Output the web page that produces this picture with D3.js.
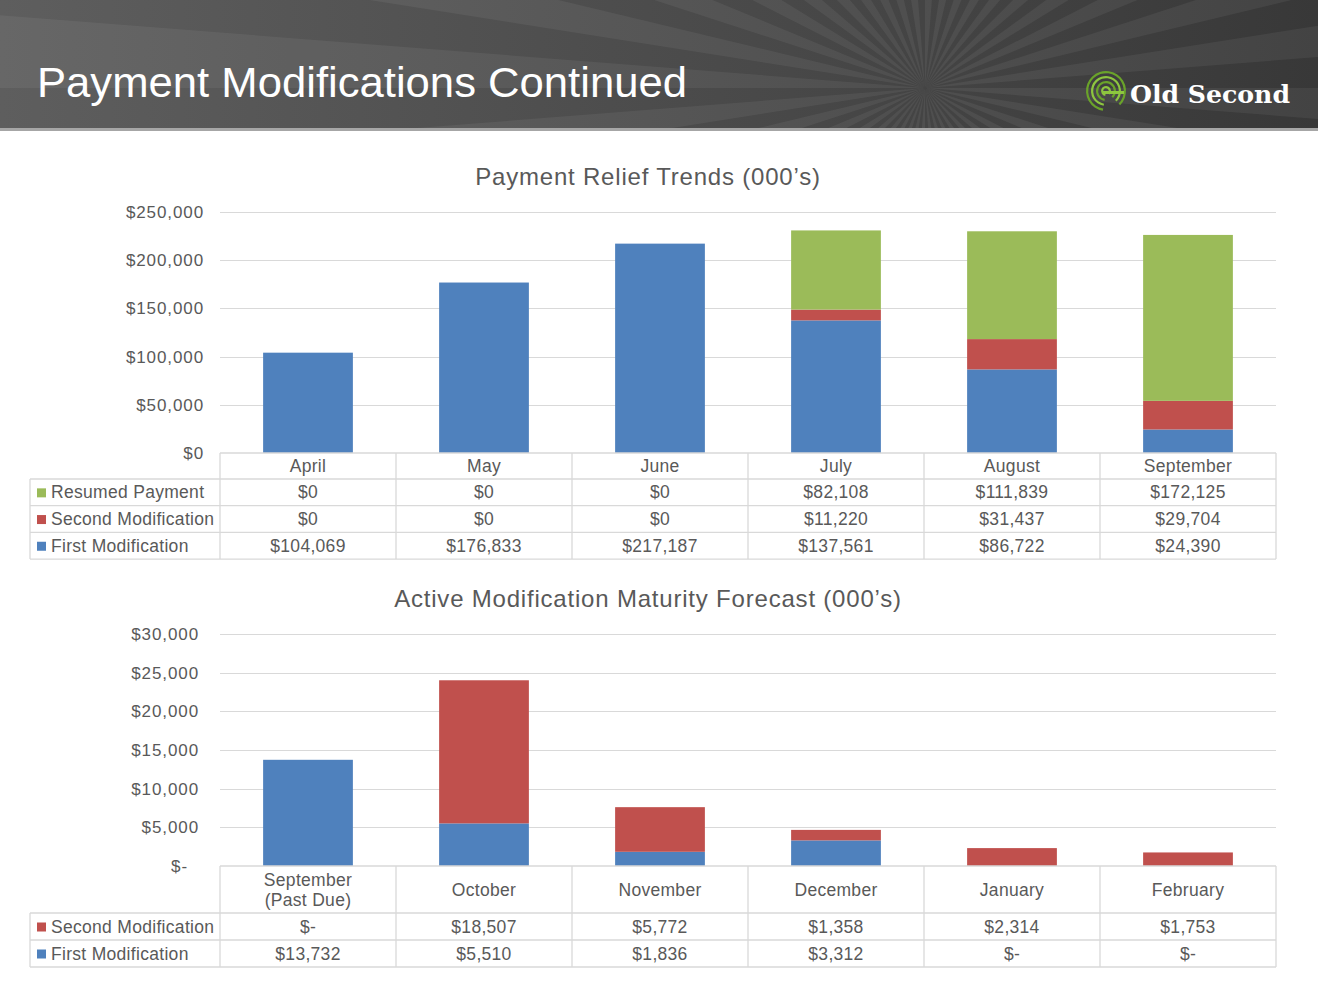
<!DOCTYPE html>
<html><head><meta charset="utf-8">
<script src="https://cdn.jsdelivr.net/npm/d3@7"></script>
<style>
html,body{margin:0;padding:0;background:#fff;}
svg{display:block;font-family:"Liberation Sans",Arial,sans-serif;}
</style></head>
<body>
<svg id="c" width="1318" height="989"></svg>
<script>
// ---- data ----
const pageTitle = "Payment Modifications Continued";
const chart1Title = "Payment Relief Trends (000\u2019s)";
const chart2Title = "Active Modification Maturity Forecast (000\u2019s)";

const months = ["April","May","June","July","August","September"];
const resumedPayment = [0,0,0,82108,111839,172125];
const secondMod = [0,0,0,11220,31437,29704];
const firstMod = [104069,176833,217187,137561,86722,24390];
const ticks1 = [0,50000,100000,150000,200000,250000];

const forecastCats = [["September","(Past Due)"],["October"],["November"],["December"],["January"],["February"]];
const fSecondMod = [0,18507,5772,1358,2314,1753];
const fFirstMod = [13732,5510,1836,3312,0,0];
const ticks2 = [0,5000,10000,15000,20000,25000,30000];

const colors = {first:"#4F81BD", second:"#C0504D", resumed:"#9BBB59"};
const textCol = "#595959", gridCol = "#D9D9D9";

const svg = d3.select("#c");

// ---- header ----
const defs = svg.append("defs");
const g1 = defs.append("linearGradient").attr("id","hg").attr("x1","0").attr("y1","0").attr("x2","1").attr("y2","0");
g1.append("stop").attr("offset","0").attr("stop-color","#5e5e5e");
g1.append("stop").attr("offset","0.6").attr("stop-color","#484848");
g1.append("stop").attr("offset","1").attr("stop-color","#383838");
const clip = defs.append("clipPath").attr("id","hc");
clip.append("rect").attr("x",0).attr("y",0).attr("width",1318).attr("height",128);

svg.append("rect").attr("x",0).attr("y",0).attr("width",1318).attr("height",128).attr("fill","url(#hg)");
const rays = svg.append("g").attr("clip-path","url(#hc)");
const cx = 925, cy = 88, R = 1600;
const rayAngles = d3.range(0, 360, 9);
rayAngles.forEach((a,i)=>{
  const a0 = a*Math.PI/180, a1 = (a+4.5)*Math.PI/180;
  rays.append("path")
    .attr("d",`M${cx},${cy}L${cx+R*Math.cos(a0)},${cy+R*Math.sin(a0)}L${cx+R*Math.cos(a1)},${cy+R*Math.sin(a1)}Z`)
    .attr("fill","#ffffff").attr("fill-opacity",0.06);
});
svg.append("rect").attr("x",0).attr("y",128).attr("width",1318).attr("height",3).attr("fill","#a6a6a6");

svg.append("text").attr("x",37).attr("y",97).attr("fill","#fff")
  .attr("font-size",43).attr("textLength",650).attr("lengthAdjust","spacingAndGlyphs").text(pageTitle);

// logo
const logo = svg.append("g").attr("transform","translate(1106,91)");
[20,15,10,5].forEach((r,i)=>{
  logo.append("path").attr("d",d3.arc()({innerRadius:r-2.2,outerRadius:r,startAngle:-Math.PI*0.95,endAngle:Math.PI*0.75}))
    .attr("fill", i%2? "#8dc63f":"#6aa32a");
});
logo.append("rect").attr("x",-4).attr("y",0).attr("width",22).attr("height",3).attr("fill","#8dc63f");
svg.append("text").attr("x",1130).attr("y",103).attr("fill","#fff")
  .attr("font-family","'DejaVu Serif',serif").attr("font-weight","bold").attr("font-size",25)
  .attr("textLength",160).attr("lengthAdjust","spacingAndGlyphs").text("Old Second");

// ---- generic chart ----
function drawChart(opt){
  const {title,titleY,cats,series,ticks,yTop,yBot,max,zeroLabel,tickFmt,tickX,catRowH,rowH,legendRows} = opt;
  const g = svg.append("g");
  const y = d3.scaleLinear().domain([0,max]).range([yBot,yTop]);
  const xCol = d3.scaleBand().domain(d3.range(cats.length)).range([220,1276]).padding(0);
  const xBar = d3.scaleBand().domain(d3.range(cats.length)).range([220,1276]).paddingInner(0.49).paddingOuter(0.245);

  g.append("text").attr("x",648).attr("y",titleY).attr("text-anchor","middle")
    .attr("fill",textCol).attr("font-size",24).attr("letter-spacing",0.8).text(title);

  // gridlines
  g.append("g").selectAll("line").data(ticks.filter(t=>t>0)).join("line")
    .attr("x1",220).attr("x2",1276).attr("y1",d=>Math.round(y(d))+0.5).attr("y2",d=>Math.round(y(d))+0.5)
    .attr("stroke",gridCol).attr("stroke-width",1);

  // y axis
  const ax = d3.axisLeft(y).tickValues(ticks).tickSize(0).tickPadding(0).tickFormat(tickFmt);
  const axg = g.append("g").attr("transform",`translate(${tickX},0)`).call(ax);
  axg.select(".domain").remove();
  axg.selectAll("text").attr("fill",textCol).attr("font-size",17).attr("letter-spacing",0.9)
    .attr("font-family","'Liberation Sans',Arial,sans-serif")
    .attr("dx",d=>d===0 && zeroLabel==="$-" ? -11 : 0);

  // stacked bars
  const keys = series.map(s=>s.key);
  const rows = cats.map((c,i)=>{const o={i}; series.forEach(s=>o[s.key]=s.values[i]); return o;});
  const stacked = d3.stack().keys(keys)(rows);
  g.append("g").selectAll("g").data(stacked).join("g")
    .attr("fill",(d,i)=>series[i].color)
    .selectAll("rect").data(d=>d).join("rect")
    .attr("x",d=>xBar(d.data.i)).attr("width",xBar.bandwidth())
    .attr("y",d=>y(d[1])).attr("height",d=>Math.max(0,y(d[0])-y(d[1])));

  // data table
  const t = g.append("g");
  const tableTop = yBot;
  const legendTop = tableTop + catRowH;
  const tableBot = legendTop + rowH*legendRows.length;
  const ln = (x1,y1,x2,y2)=>t.append("line").attr("x1",x1).attr("y1",y1).attr("x2",x2).attr("y2",y2)
    .attr("stroke",gridCol).attr("stroke-width",1.3);
  ln(220,tableTop,1276,tableTop);
  for(let k=0;k<=legendRows.length;k++) ln(30,legendTop+k*rowH,1276,legendTop+k*rowH);
  ln(30,legendTop,30,tableBot);
  d3.range(cats.length+1).forEach(i=>{
    const xx = i<cats.length ? xCol(i) : 1276;
    ln(xx,tableTop,xx,tableBot);
  });
  const fs = 17.5, ls = 0.3;
  // category labels
  cats.forEach((c,i)=>{
    const lines = Array.isArray(c)?c:[c];
    const cxm = xCol(i)+xCol.bandwidth()/2;
    const mid = tableTop + catRowH/2;
    lines.forEach((l,j)=>{
      t.append("text").attr("x",cxm).attr("y",mid + (j-(lines.length-1)/2)*20 + 6)
        .attr("text-anchor","middle").attr("fill",textCol).attr("font-size",fs).attr("letter-spacing",ls).text(l);
    });
  });
  // legend rows
  legendRows.forEach((s,k)=>{
    const ry = legendTop + k*rowH;
    t.append("rect").attr("x",37).attr("y",ry+rowH/2-4).attr("width",9).attr("height",9).attr("fill",s.color);
    t.append("text").attr("x",51).attr("y",ry+rowH/2+6).attr("fill",textCol)
      .attr("font-size",fs).attr("letter-spacing",ls).text(s.label);
    s.values.forEach((v,i)=>{
      t.append("text").attr("x",xCol(i)+xCol.bandwidth()/2).attr("y",ry+rowH/2+6)
        .attr("text-anchor","middle").attr("fill",textCol).attr("font-size",fs).attr("letter-spacing",ls)
        .text(v===0 ? zeroLabel : "$"+d3.format(",")(v));
    });
  });
}

const s1 = [
  {key:"first",label:"First Modification",values:firstMod,color:colors.first},
  {key:"second",label:"Second Modification",values:secondMod,color:colors.second},
  {key:"resumed",label:"Resumed Payment",values:resumedPayment,color:colors.resumed}
];
drawChart({
  title:chart1Title,titleY:185,cats:months,series:s1,ticks:ticks1,yTop:212,yBot:453,max:250000,
  zeroLabel:"$0",tickFmt:d=>"$"+d3.format(",")(d),tickX:204,catRowH:26,rowH:26.7,
  legendRows:[s1[2],s1[1],s1[0]]
});

const s2 = [
  {key:"first",label:"First Modification",values:fFirstMod,color:colors.first},
  {key:"second",label:"Second Modification",values:fSecondMod,color:colors.second}
];
drawChart({
  title:chart2Title,titleY:607,cats:forecastCats,series:s2,ticks:ticks2,yTop:634,yBot:866,max:30000,
  zeroLabel:"$-",tickFmt:d=>d===0?"$-":"$"+d3.format(",")(d),tickX:199,catRowH:47,rowH:27,
  legendRows:[s2[1],s2[0]]
});
</script>
</body></html>
